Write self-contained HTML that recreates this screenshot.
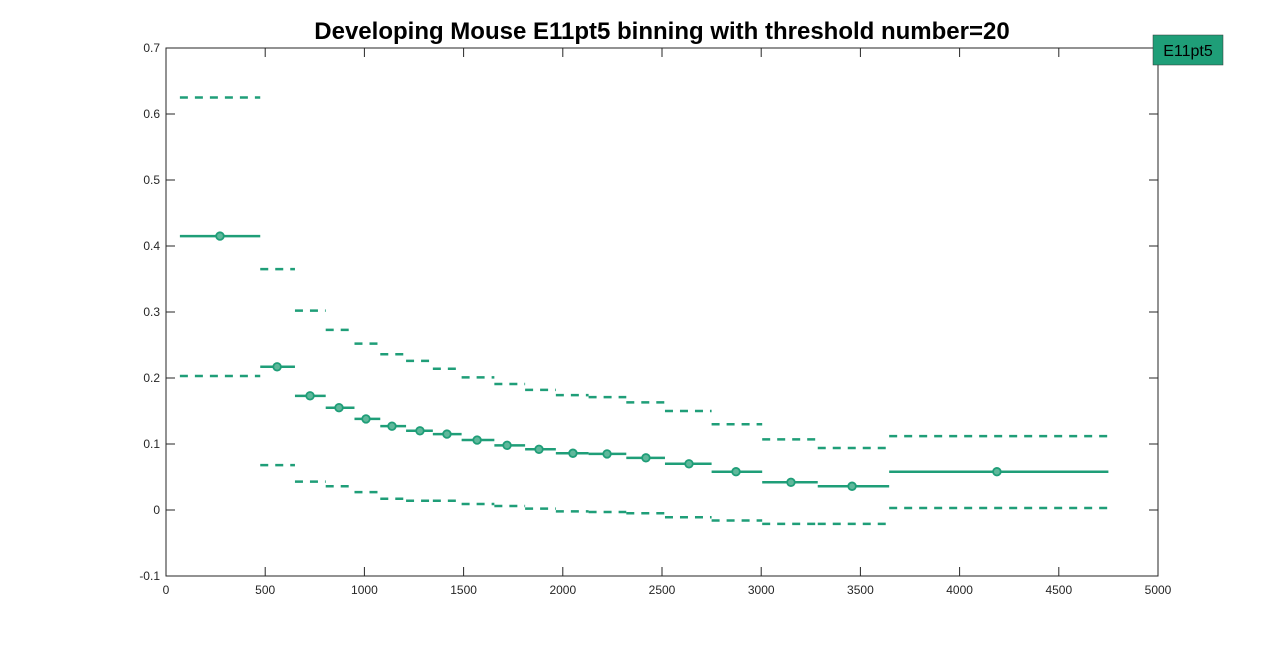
<!DOCTYPE html>
<html><head><meta charset="utf-8"><style>
body{margin:0;background:#fff;}
svg text{font-family:"Liberation Sans",sans-serif;}
</style></head><body>
<svg id="chart" width="1280" height="647" xmlns="http://www.w3.org/2000/svg">
<rect width="1280" height="647" fill="#fff"/>
<text x="662" y="39" text-anchor="middle" font-size="24" font-weight="bold" fill="#000">Developing Mouse E11pt5 binning with threshold number=20</text>
<g id="axes"></g>
<g id="marks"></g>
<rect x="1153" y="35" width="70" height="30" fill="#1f9e78" stroke="#333" stroke-width="0.5"/>
<text x="1188" y="56" text-anchor="middle" font-size="16" fill="#000">E11pt5</text>
</svg>
<script>
const binEdges=[70,475,650,805,950,1080,1210,1345,1490,1655,1810,1965,2130,2320,2515,2750,3005,3285,3645,4750];
const binCenters=[272,560,726,872,1008,1139,1280,1416,1568,1719,1880,2051,2223,2419,2636,2873,3150,3458,4188];
const meanVals=[0.415,0.217,0.173,0.155,0.138,0.127,0.120,0.115,0.106,0.098,0.092,0.086,0.085,0.079,0.070,0.058,0.042,0.036,0.058];
const upperVals=[0.625,0.365,0.302,0.273,0.252,0.236,0.226,0.214,0.201,0.191,0.182,0.174,0.171,0.163,0.150,0.130,0.107,0.094,0.112];
const lowerVals=[0.203,0.068,0.043,0.036,0.027,0.017,0.014,0.014,0.009,0.006,0.002,-0.002,-0.003,-0.005,-0.011,-0.016,-0.021,-0.021,0.003];
const xTicks=[0,500,1000,1500,2000,2500,3000,3500,4000,4500,5000];
const yTicks=[-0.1,0,0.1,0.2,0.3,0.4,0.5,0.6,0.7];
const L=166,R=1158,T=48,B=576;
const xs=v=>L+(v-0)/5000*(R-L);
const ys=v=>B-(v+0.1)/0.8*(B-T);
const NS="http://www.w3.org/2000/svg";
const C="#1f9e78";
function mk(tag,attrs,parent){const e=document.createElementNS(NS,tag);for(const k in attrs)e.setAttribute(k,attrs[k]);parent.appendChild(e);return e;}
const ax=document.getElementById('axes'),mg=document.getElementById('marks');
let box=mk('rect',{x:L,y:T,width:R-L,height:B-T,fill:'none',stroke:'#262626','stroke-width':1},ax);


xTicks.forEach(t=>{const x=xs(t);
mk('line',{x1:x,x2:x,y1:B,y2:B-9,stroke:'#262626'},ax);
mk('line',{x1:x,x2:x,y1:T,y2:T+9,stroke:'#262626'},ax);
const tx=mk('text',{x:x,y:B+18,'text-anchor':'middle','font-size':12,fill:'#262626'},ax);tx.textContent=t;

});
yTicks.forEach(t=>{const y=ys(t);
mk('line',{x1:L,x2:L+9,y1:y,y2:y,stroke:'#262626'},ax);
mk('line',{x1:R,x2:R-9,y1:y,y2:y,stroke:'#262626'},ax);
const tx=mk('text',{x:L-6,y:y+4,'text-anchor':'end','font-size':12,fill:'#262626'},ax);tx.textContent=Math.round(t*10)/10;

});
meanVals.forEach((m,i)=>{const x1=xs(binEdges[i]),x2=xs(binEdges[i+1]);
const u=mk('line',{x1:x1,x2:x2,y1:ys(upperVals[i]),y2:ys(upperVals[i]),stroke:C,'stroke-width':2.5,'stroke-dasharray':'8 7'},mg);


const l=mk('line',{x1:x1,x2:x2,y1:ys(lowerVals[i]),y2:ys(lowerVals[i]),stroke:C,'stroke-width':2.5,'stroke-dasharray':'8 7'},mg);


const s=mk('line',{x1:x1,x2:x2,y1:ys(m),y2:ys(m),stroke:C,'stroke-width':2.5},mg);


const c=mk('circle',{cx:xs(binCenters[i]),cy:ys(m),r:3.8,fill:'#5fb89b',stroke:C,'stroke-width':1.8},mg);

});
</script>
</body></html>
